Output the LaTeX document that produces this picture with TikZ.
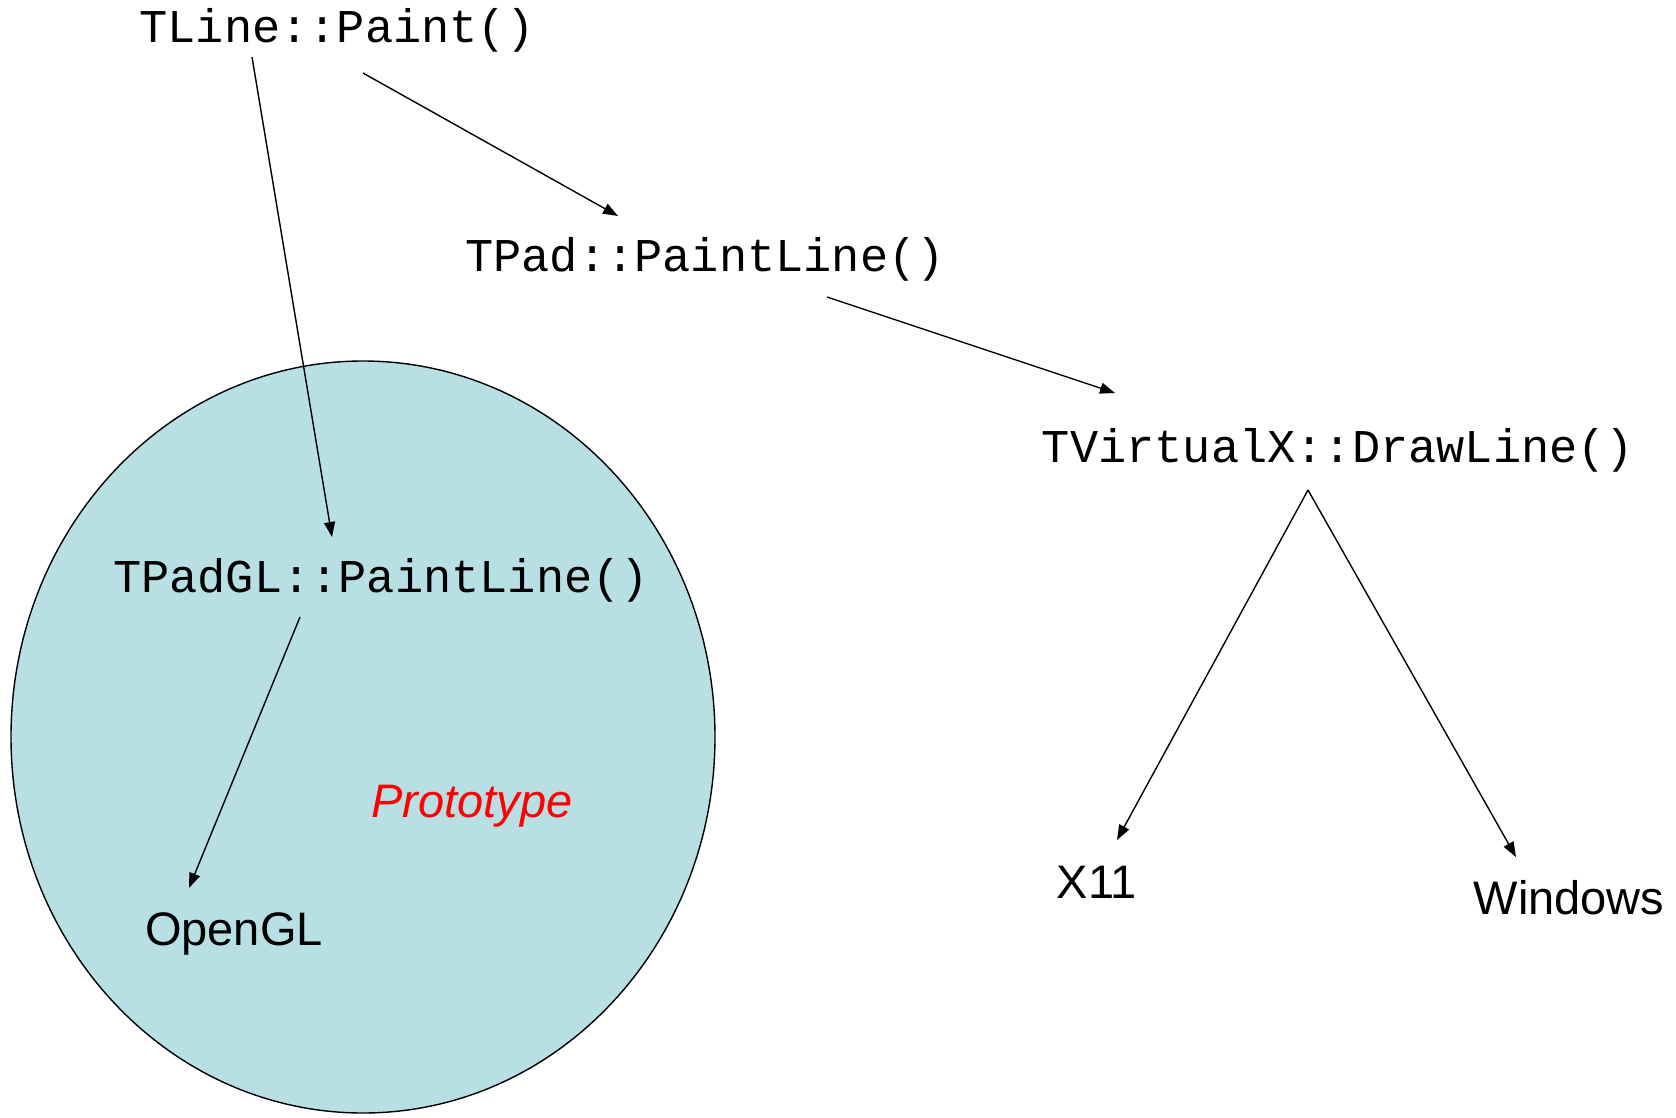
\documentclass[tikz,border=0pt]{standalone}
\usepackage{fontspec}
\setmainfont{Liberation Sans}
\newfontfamily\codefont{Liberation Mono}
\usetikzlibrary{arrows.meta}
\definecolor{protofill}{RGB}{184,224,228}
\definecolor{protored}{RGB}{255,0,0}
\begin{document}
\begin{tikzpicture}[x=1pt,y=-1pt,
  code/.style={font=\codefont\fontsize{47}{52}\selectfont, inner sep=0pt},
  plain/.style={font=\fontsize{47}{52}\selectfont, inner sep=0pt},
  call/.style={line width=1.4pt, -{Triangle[length=15pt,width=11pt]}}]
\useasboundingbox (0,0) rectangle (1676,1117);
\draw[fill=protofill, line width=1.4pt] (363,737) ellipse [x radius=352, y radius=376];

\node[code] (paint) at (337,30) {TLine::Paint()};
\node[code] (padline) at (705,259) {TPad::PaintLine()};
\node[code] (drawline) at (1338,450) {TVirtualX::DrawLine()};
\node[code] (padgl) at (381,580) {TPadGL::PaintLine()};
\node[plain, text=protored, font=\itshape\fontsize{47}{52}\selectfont] (proto) at (472,806) {Prototype};
\node[plain] (opengl) at (234,934) {OpenGL};
\node[plain] (x11) at (1097,882) {X11};
\node[plain] (windows) at (1569,898) {Windows};

\coordinate (a1s) at (252,57);  \coordinate (a1e) at (332,537);
\coordinate (a2s) at (363,73);  \coordinate (a2e) at (618,216);
\coordinate (a3s) at (827,297); \coordinate (a3e) at (1115,393);
\coordinate (a4s) at (1308,490);\coordinate (a4e) at (1117,840);
\coordinate (a5e) at (1516,857);
\coordinate (a6s) at (300,617); \coordinate (a6e) at (189,888);

\draw[call] (a1s) -- (a1e);
\draw[call] (a2s) -- (a2e);
\draw[call] (a3s) -- (a3e);
\draw[call] (a4s) -- (a4e);
\draw[call] (a4s) -- (a5e);
\draw[call] (a6s) -- (a6e);
\end{tikzpicture}
\end{document}
